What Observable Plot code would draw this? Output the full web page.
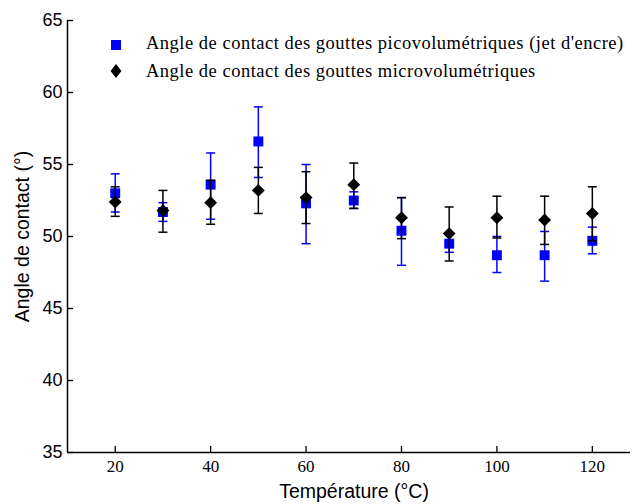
<!DOCTYPE html>
<html><head><meta charset="utf-8">
<script src="https://cdn.jsdelivr.net/npm/d3@7"></script>
<script src="https://cdn.jsdelivr.net/npm/@observablehq/plot@0.6"></script>
<style>
body{margin:0;background:#fff}
#wrap{position:relative;width:632px;height:504px}
.lg-text{position:absolute;left:146px;font-family:"Liberation Serif",serif;font-size:18.5px;letter-spacing:0.5px;line-height:20px;color:#000;white-space:nowrap}
.lg-mark{position:absolute;left:106px;width:20px;height:20px}
</style>
</head><body><div id="wrap"></div>
<script>
const temps = [20, 30, 40, 50, 60, 70, 80, 90, 100, 110, 120];
const picoMean = [53.0, 51.7, 53.6, 56.6, 52.3, 52.5, 50.4, 49.5, 48.7, 48.7, 49.7];
const picoLow  = [51.7, 51.05, 51.2, 54.1, 49.5, 51.95, 48.0, 48.9, 47.5, 46.9, 48.8];
const picoHigh = [54.35, 52.35, 55.8, 59.0, 55.0, 53.1, 52.7, 50.2, 50.0, 50.35, 50.65];
const microMean = [52.4, 51.8, 52.35, 53.2, 52.7, 53.6, 51.3, 50.2, 51.3, 51.15, 51.6];
const microLow  = [51.4, 50.3, 50.85, 51.6, 50.9, 51.95, 49.85, 48.3, 49.9, 49.45, 49.7];
const microHigh = [53.45, 53.2, 53.9, 54.8, 54.5, 55.1, 52.7, 52.05, 52.8, 52.8, 53.45];
const seriesNames = [
  "Angle de contact des gouttes picovolumétriques (jet d'encre)",
  "Angle de contact des gouttes microvolumétriques"
];
const xTicks = [20, 40, 60, 80, 100, 120];
const yTicks = [35, 40, 45, 50, 55, 60, 65];
const xDomain = [10, 128];
const yDomain = [35, 65];
const xLabel = "Température (°C)";
const yLabel = "Angle de contact (°)";

const pico = temps.map((t, i) => ({t, m: picoMean[i], lo: picoLow[i], hi: picoHigh[i]}));
const micro = temps.map((t, i) => ({t, m: microMean[i], lo: microLow[i], hi: microHigh[i]}));

const cap = {draw(ctx, size) { const r = Math.sqrt(size / Math.PI); ctx.moveTo(-r, 0); ctx.lineTo(r, 0); }};
const BLUE = "#0000ff";

function series(data, color, symbol, r) {
  return [
    Plot.ruleX(data, {x: "t", y1: "lo", y2: "hi", stroke: color, strokeWidth: 1.5}),
    Plot.dot(data, {x: "t", y: "lo", symbol: cap, r: 4.5, stroke: color, fill: "none", strokeWidth: 1.5}),
    Plot.dot(data, {x: "t", y: "hi", symbol: cap, r: 4.5, stroke: color, fill: "none", strokeWidth: 1.5}),
    Plot.dot(data, {x: "t", y: "m", symbol, r, fill: color, stroke: "none"})
  ];
}

const chart = Plot.plot({
  width: 632, height: 504,
  marginLeft: 67, marginRight: 2, marginTop: 20, marginBottom: 52,
  x: {domain: xDomain},
  y: {domain: yDomain},
  style: {background: "#fff", color: "#000"},
  marks: [
    Plot.axisY(yTicks, {tickSize: -6, tickPadding: 11, fontSize: 18, fontFamily: "Liberation Sans, sans-serif", label: null, stroke: "#000", strokeWidth: 1.3}),
    Plot.axisX(xTicks, {tickSize: -6, tickPadding: 13, fontSize: 17, fontFamily: "Liberation Serif, serif", label: null, stroke: "#000", strokeWidth: 1.3}),
    Plot.ruleX([xDomain[0]], {stroke: "#000", strokeWidth: 1.5}),
    Plot.ruleY([yDomain[0]], {stroke: "#000", strokeWidth: 1.5}),
    Plot.text([xLabel], {frameAnchor: "bottom", textAnchor: "middle", lineAnchor: "middle", dy: 39, dx: 5, fontSize: 19.5, fontFamily: "Liberation Sans, sans-serif", fill: "#000"}),
    Plot.text([yLabel], {frameAnchor: "left", textAnchor: "middle", lineAnchor: "middle", dx: -45, rotate: -90, fontSize: 19.5, fontFamily: "Liberation Sans, sans-serif", fill: "#000"}),
    ...series(pico, BLUE, "square", 5.6),
    ...series(micro, "#000", "diamond2", 5.8)
  ]
});
const wrap = document.getElementById("wrap");
wrap.appendChild(chart);

const markers = [
  `<svg viewBox="-10 -10 20 20" width="20" height="20"><rect x="-5" y="-5" width="10" height="10" fill="${BLUE}"/></svg>`,
  `<svg viewBox="-10 -10 20 20" width="20" height="20"><path d="M0,-7L5.5,0L0,7L-5.5,0Z" fill="#000"/></svg>`
];
const markTops = [35.3, 61.3];
const textTops = [32.5, 61.1];
seriesNames.forEach((name, i) => {
  const m = document.createElement("div");
  m.className = "lg-mark";
  m.style.top = markTops[i] + "px";
  m.innerHTML = markers[i];
  wrap.appendChild(m);
  const t = document.createElement("div");
  t.className = "lg-text";
  t.style.top = textTops[i] + "px";
  t.textContent = name;
  wrap.appendChild(t);
});
</script>
</body></html>
